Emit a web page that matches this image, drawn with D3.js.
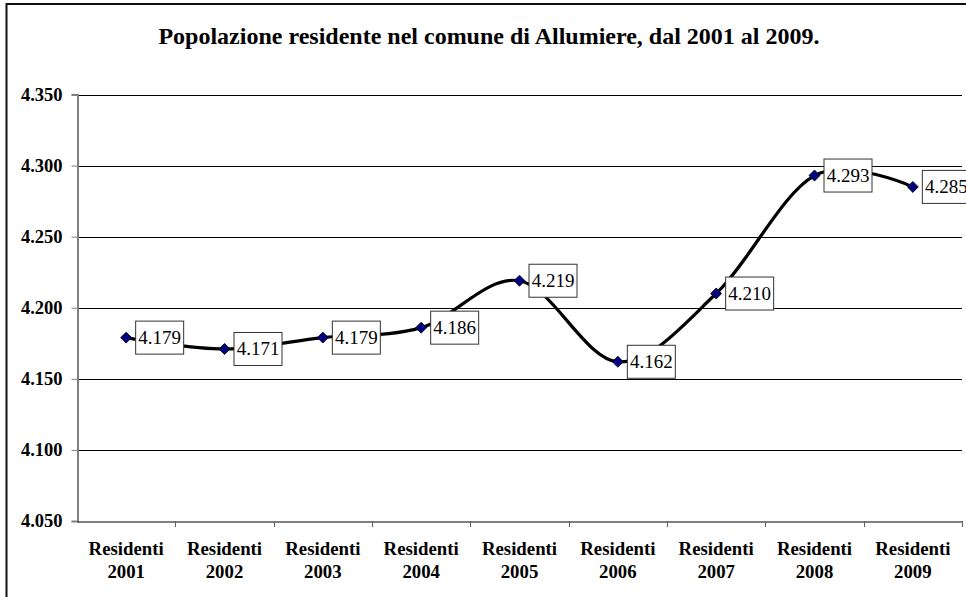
<!DOCTYPE html>
<html>
<head>
<meta charset="utf-8">
<script src="https://cdn.jsdelivr.net/npm/d3@7"></script>
<style>
  body { margin: 0; background: #fff; }
  svg text { font-family: 'Liberation Serif', 'Times New Roman', Times, 'DejaVu Serif', serif; }
</style>
</head>
<body>
<svg id="chart" width="966" height="597"></svg>
<script>
// data
const years = ["2001", "2002", "2003", "2004", "2005", "2006", "2007", "2008", "2009"];
const residents = [4179, 4171, 4179, 4186, 4219, 4162, 4210, 4293, 4285];
const yTicks = [4050, 4100, 4150, 4200, 4250, 4300, 4350];
const title = "Popolazione residente nel comune di Allumiere, dal 2001 al 2009.";

const width = 966, height = 597;
const margin = { left: 77, right: 4, top: 94.5, bottom: 76 };
const serif = "'Liberation Serif', 'Times New Roman', Times, 'DejaVu Serif', serif";

const svg = d3.select("#chart");

// Italian number format: 4.179
const it = d3.formatLocale({ decimal: ",", thousands: ".", grouping: [3], currency: ["", " €"] });
const fmt = it.format(",d");

// outer frame (right and bottom edges fall outside the picture)
svg.append("rect")
  .attr("x", 6.5).attr("y", 4)
  .attr("width", width + 20).attr("height", height + 20)
  .attr("fill", "none")
  .attr("stroke", "#111")
  .attr("stroke-width", 2);

svg.append("text")
  .attr("x", 489).attr("y", 44)
  .attr("text-anchor", "middle")
  .attr("font-family", serif)
  .style("font-weight", "bold")
  .style("font-size", "24px")
  .text(title);

const x = d3.scaleBand()
  .domain(years)
  .range([margin.left, width - margin.right]);

const y = d3.scaleLinear()
  .domain([4050, 4350])
  .range([height - margin.bottom, margin.top]);

// gridlines
svg.append("g")
  .selectAll("line")
  .data(yTicks.slice(1))
  .enter()
  .append("line")
  .attr("x1", margin.left)
  .attr("x2", width - margin.right)
  .attr("y1", d => Math.round(y(d)) + 0.5)
  .attr("y2", d => Math.round(y(d)) + 0.5)
  .attr("stroke", "#000")
  .attr("stroke-width", 1);

// y axis
const yAxis = svg.append("g")
  .attr("transform", "translate(" + (margin.left + 0.5) + ",0)")
  .call(d3.axisLeft(y).tickValues(yTicks).tickFormat(fmt).tickSizeOuter(0).tickSize(6).tickPadding(9));
yAxis.attr("font-family", serif);
yAxis.select(".domain").attr("stroke", "#808080").attr("stroke-width", 2);
yAxis.selectAll(".tick line").attr("stroke", "#808080");
yAxis.selectAll(".tick text")
  .attr("fill", "#000")
  .style("font-weight", "bold")
  .style("font-size", "18.5px");

// x axis
const xAxis = svg.append("g")
  .attr("transform", "translate(0," + (Math.round(y(4050)) + 0.5) + ")")
  .call(d3.axisBottom(x).tickSize(0).tickFormat(""));
xAxis.select(".domain").attr("stroke", "#000");

// category separators
svg.append("g")
  .selectAll("line")
  .data(years)
  .enter()
  .append("line")
  .attr("x1", d => Math.round(x(d) + x.bandwidth()) + 0.5)
  .attr("x2", d => Math.round(x(d) + x.bandwidth()) + 0.5)
  .attr("y1", y(4050))
  .attr("y2", y(4050) + 6)
  .attr("stroke", "#606060");

const cats = svg.append("g")
  .attr("font-family", serif)
  .selectAll("text")
  .data(years)
  .enter()
  .append("text")
  .attr("text-anchor", "middle")
  .style("font-weight", "bold")
  .style("font-size", "18.8px");
cats.append("tspan")
  .attr("x", d => x(d) + x.bandwidth() / 2)
  .attr("y", 555)
  .text("Residenti");
cats.append("tspan")
  .attr("x", d => x(d) + x.bandwidth() / 2)
  .attr("y", 578)
  .text(d => d);

// series
const pts = years.map((d, i) => ({ year: d, value: residents[i] }));

const line = d3.line()
  .x(d => x(d.year) + x.bandwidth() / 2)
  .y(d => y(d.value))
  .curve(d3.curveCardinal.tension(0));

svg.append("path")
  .datum(pts)
  .attr("d", line)
  .attr("fill", "none")
  .attr("stroke", "#000")
  .attr("stroke-width", 3.2);

svg.append("g")
  .selectAll("path")
  .data(pts)
  .enter()
  .append("path")
  .attr("d", d3.symbol().type(d3.symbolSquare).size(60))
  .attr("transform", d => "translate(" + (x(d.year) + x.bandwidth() / 2) + "," + y(d.value) + ") rotate(45)")
  .attr("fill", "#000080")
  .attr("stroke", "#000")
  .attr("stroke-width", 0.8);

// value labels in boxes
const labels = svg.append("g")
  .attr("font-family", serif)
  .selectAll("g")
  .data(pts)
  .enter()
  .append("g")
  .attr("transform", d => "translate(" + (x(d.year) + x.bandwidth() / 2 + 9) + "," + y(d.value) + ")");

labels.append("rect")
  .attr("x", 0.5)
  .attr("y", -16.5)
  .attr("width", 48)
  .attr("height", 33)
  .attr("fill", "#fff")
  .attr("stroke", "#333")
  .attr("stroke-width", 1);

labels.append("text")
  .attr("x", 24.5)
  .attr("y", 6.5)
  .attr("text-anchor", "middle")
  .style("font-size", "19px")
  .text(d => fmt(d.value));
</script>
</body>
</html>
